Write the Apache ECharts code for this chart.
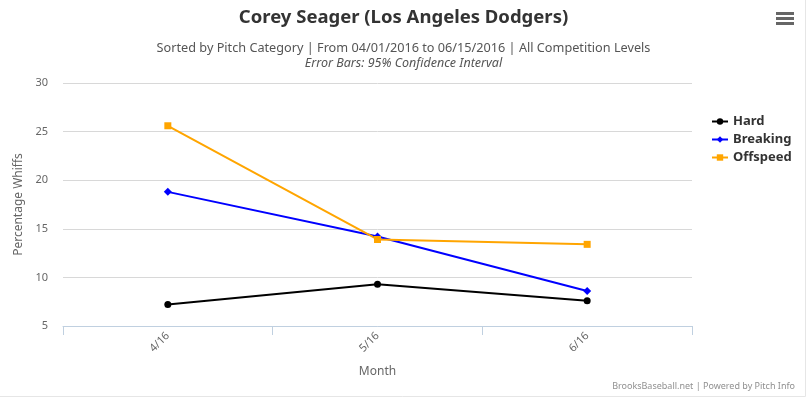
<!DOCTYPE html>
<html>
<head>
<meta charset="utf-8">
<script src="https://cdn.jsdelivr.net/npm/echarts@6/dist/echarts.min.js"></script>
<style>
    html, body { margin: 0; padding: 0; background: #fff; }
    #chart { width: 807px; height: 398px; }
</style>
</head>
<body>
<div id="chart"></div>
<script>
// 数据
var months = ['4/16', '5/16', '6/16'];
var hardVals = [7.2, 9.3, 7.6];
var breakingVals = [18.8, 14.2, 8.6];
var offspeedVals = [25.6, 13.9, 13.4];
var yTicks = [5, 10, 15, 20, 25, 30];

var font = '"Noto Sans", "DejaVu Sans", sans-serif';
var chart = echarts.init(document.getElementById('chart'));

var option = {
    animation: false,
    textStyle: { fontFamily: font },
    title: [{
        text: 'Corey Seager (Los Angeles Dodgers)',
        left: 'center',
        top: 3,
        textStyle: { fontSize: 18.5, fontWeight: 'bold', color: '#333', fontFamily: font }
    }, {
        text: 'Sorted by Pitch Category | From 04/01/2016 to 06/15/2016 | All Competition Levels',
        left: 'center',
        top: 37,
        textStyle: { fontSize: 12.7, fontWeight: 'normal', color: '#555', fontFamily: font }
    }, {
        text: 'Error Bars: 95% Confidence Interval',
        left: 'center',
        top: 52,
        textStyle: { fontSize: 12.5, fontWeight: 'normal', fontStyle: 'italic', color: '#555', fontFamily: font }
    }],
    legend: {
        orient: 'vertical',
        left: 706,
        top: 110,
        itemWidth: 16,
        itemHeight: 8,
        itemGap: 5,
        textStyle: { fontSize: 13, fontWeight: 'bold', color: '#333', fontFamily: font },
        data: ['Hard', 'Breaking', 'Offspeed']
    },
    grid: { left: 63, right: 115, top: 83, bottom: 72 },
    xAxis: {
        type: 'category',
        data: months,
        boundaryGap: true,
        name: 'Month',
        nameLocation: 'middle',
        nameGap: 40,
        nameTextStyle: { color: '#666', fontSize: 12 },
        axisLine: { lineStyle: { color: '#C0D0E0', width: 1 } },
        axisTick: { show: true, length: 9, alignWithLabel: false, lineStyle: { color: '#C0D0E0' } },
        axisLabel: { rotate: 45, color: '#666', fontSize: 11, margin: 8 },
        splitLine: { show: false }
    },
    yAxis: {
        type: 'value',
        min: yTicks[0],
        max: yTicks[yTicks.length - 1],
        interval: 5,
        name: 'Percentage Whiffs',
        nameLocation: 'middle',
        nameGap: 36,
        nameRotate: 90,
        nameTextStyle: { color: '#666', fontSize: 12 },
        axisLine: { show: false },
        axisTick: { show: false },
        axisLabel: { color: '#666', fontSize: 11, margin: 15 },
        splitLine: { lineStyle: { color: '#D8D8D8', width: 1 } }
    },
    series: [{
        name: 'Hard',
        type: 'line',
        data: hardVals,
        symbol: 'circle',
        symbolSize: 7,
        lineStyle: { color: '#000', width: 2 },
        itemStyle: { color: '#000' }
    }, {
        name: 'Breaking',
        type: 'line',
        data: breakingVals,
        symbol: 'diamond',
        symbolSize: 8,
        lineStyle: { color: '#0000FF', width: 2 },
        itemStyle: { color: '#0000FF' }
    }, {
        name: 'Offspeed',
        type: 'line',
        data: offspeedVals,
        symbol: 'rect',
        symbolSize: 7,
        lineStyle: { color: '#FFA500', width: 2 },
        itemStyle: { color: '#FFA500' }
    }],
    graphic: [{
        type: 'text',
        right: 12,
        top: 382,
        style: { text: 'BrooksBaseball.net | Powered by Pitch Info', fill: '#909090', fontSize: 9, fontFamily: font }
    }, {
        type: 'group',
        left: 776,
        top: 12,
        children: [
            { type: 'rect', shape: { x: 0, y: 0, width: 18, height: 3 }, style: { fill: '#666' } },
            { type: 'rect', shape: { x: 0, y: 5, width: 18, height: 3 }, style: { fill: '#666' } },
            { type: 'rect', shape: { x: 0, y: 10, width: 18, height: 3 }, style: { fill: '#666' } }
        ]
    }, {
        type: 'polyline',
        silent: true,
        shape: { points: [[0, 396.5], [805.5, 396.5], [805.5, 0]] },
        style: { fill: 'none', stroke: '#E6E6E6', lineWidth: 1 }
    }]
};

chart.setOption(option);
</script>
</body>
</html>
